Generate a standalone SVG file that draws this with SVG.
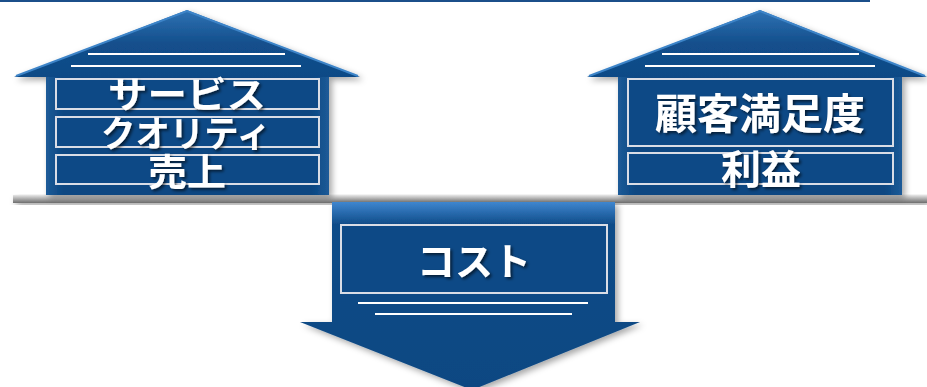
<svg xmlns="http://www.w3.org/2000/svg" width="927" height="387" viewBox="0 0 927 387">
<style>
.txt{font-family:"Noto Sans CJK JP","Noto Sans",sans-serif;font-weight:bold;fill:#ffffff;text-anchor:middle;filter:url(#tshadow)}
.box{fill:#0b4a86;stroke:#d9dde6;stroke-width:2}
.wl{stroke:#ffffff;stroke-width:2}
.body{fill:url(#bodyG)}
</style>
<defs>
<linearGradient id="roofG" x1="0" y1="0" x2="0" y2="1">
<stop offset="0" stop-color="#2f72b4"/>
<stop offset="0.5" stop-color="#134f8c"/>
<stop offset="1" stop-color="#0c4a86"/>
</linearGradient>
<linearGradient id="bodyG" x1="0" y1="0" x2="1" y2="0">
<stop offset="0" stop-color="#1d5b98"/>
<stop offset="0.06" stop-color="#0b4782"/>
<stop offset="0.94" stop-color="#0b4782"/>
<stop offset="1" stop-color="#1d5b98"/>
</linearGradient>
<linearGradient id="arrowTopG" x1="0" y1="0" x2="0" y2="1">
<stop offset="0" stop-color="#3f86cf"/>
<stop offset="0.12" stop-color="#0f4c88"/>
<stop offset="1" stop-color="#0b4782"/>
</linearGradient>
<linearGradient id="shelfG" x1="0" y1="0" x2="0" y2="1">
<stop offset="0" stop-color="#e6e6e6"/>
<stop offset="0.5" stop-color="#a9a9a9"/>
<stop offset="1" stop-color="#6e6e6e"/>
</linearGradient>
<filter id="tshadow" x="-10%" y="-10%" width="130%" height="140%">
<feDropShadow dx="2" dy="2" stdDeviation="1.5" flood-color="#000000" flood-opacity="0.6"/>
</filter>
<filter id="sshadow" x="-5%" y="-5%" width="115%" height="130%">
<feDropShadow dx="3" dy="3" stdDeviation="3" flood-color="#000000" flood-opacity="0.35"/>
</filter>
</defs>
<rect width="927" height="387" fill="#ffffff"/>
<line x1="0" y1="1" x2="870" y2="1" stroke="#1b4f8a" stroke-width="2"/>

<g id="shelf">
<rect x="13" y="195" width="914" height="8" fill="url(#shelfG)" filter="url(#sshadow)"/>
</g>

<g id="house-left" filter="url(#sshadow)">
<rect class="body" x="46" y="76" width="283" height="119"/>
<polygon points="187,10 360,77 14,77" fill="url(#roofG)"/>
<polyline points="16,76 187,11 358,76" fill="none" stroke="#3d84c8" stroke-width="2"/>
<line class="wl" x1="88" y1="54" x2="285" y2="54"/>
<line class="wl" x1="71" y1="66" x2="301" y2="66"/>
<rect class="box" x="56" y="79" width="263" height="30"/>
<rect class="box" x="56" y="117" width="263" height="30"/>
<rect class="box" x="56" y="155" width="263" height="29"/>
</g>
<g id="house-left-text">
<text class="txt" x="187" y="108" font-size="36" textLength="158" lengthAdjust="spacingAndGlyphs">サービス</text>
<text class="txt" x="186" y="147" font-size="36" textLength="170" lengthAdjust="spacingAndGlyphs">クオリティ</text>
<text class="txt" x="187" y="186" font-size="37" textLength="78" lengthAdjust="spacingAndGlyphs">売上</text>
</g>

<g id="house-right" filter="url(#sshadow)">
<rect class="body" x="618" y="76" width="284" height="119"/>
<polygon points="760,10 927,77 587,77" fill="url(#roofG)"/>
<polyline points="589,76 760,11 925,76" fill="none" stroke="#3d84c8" stroke-width="2"/>
<line class="wl" x1="662" y1="54" x2="859" y2="54"/>
<line class="wl" x1="645" y1="66" x2="875" y2="66"/>
<rect class="box" x="628" y="79" width="265" height="67"/>
<rect class="box" x="628" y="153" width="265" height="31"/>
</g>
<g id="house-right-text">
<text class="txt" x="760" y="129" font-size="42">顧客満足度</text>
<text class="txt" x="761" y="184" font-size="40">利益</text>
</g>

<g id="arrow-cost" filter="url(#sshadow)">
<polygon points="332,202 615,202 615,322 640,322 472,390 300,322 332,322" fill="url(#arrowTopG)"/>
<rect class="box" x="341" y="225" width="266" height="68"/>
<line class="wl" x1="358" y1="303" x2="588" y2="303"/>
<line class="wl" x1="375" y1="314" x2="572" y2="314"/>
</g>
<g id="arrow-cost-text">
<text class="txt" x="474" y="275" font-size="38">コスト</text>
</g>

<g id="connectors"/>
</svg>
